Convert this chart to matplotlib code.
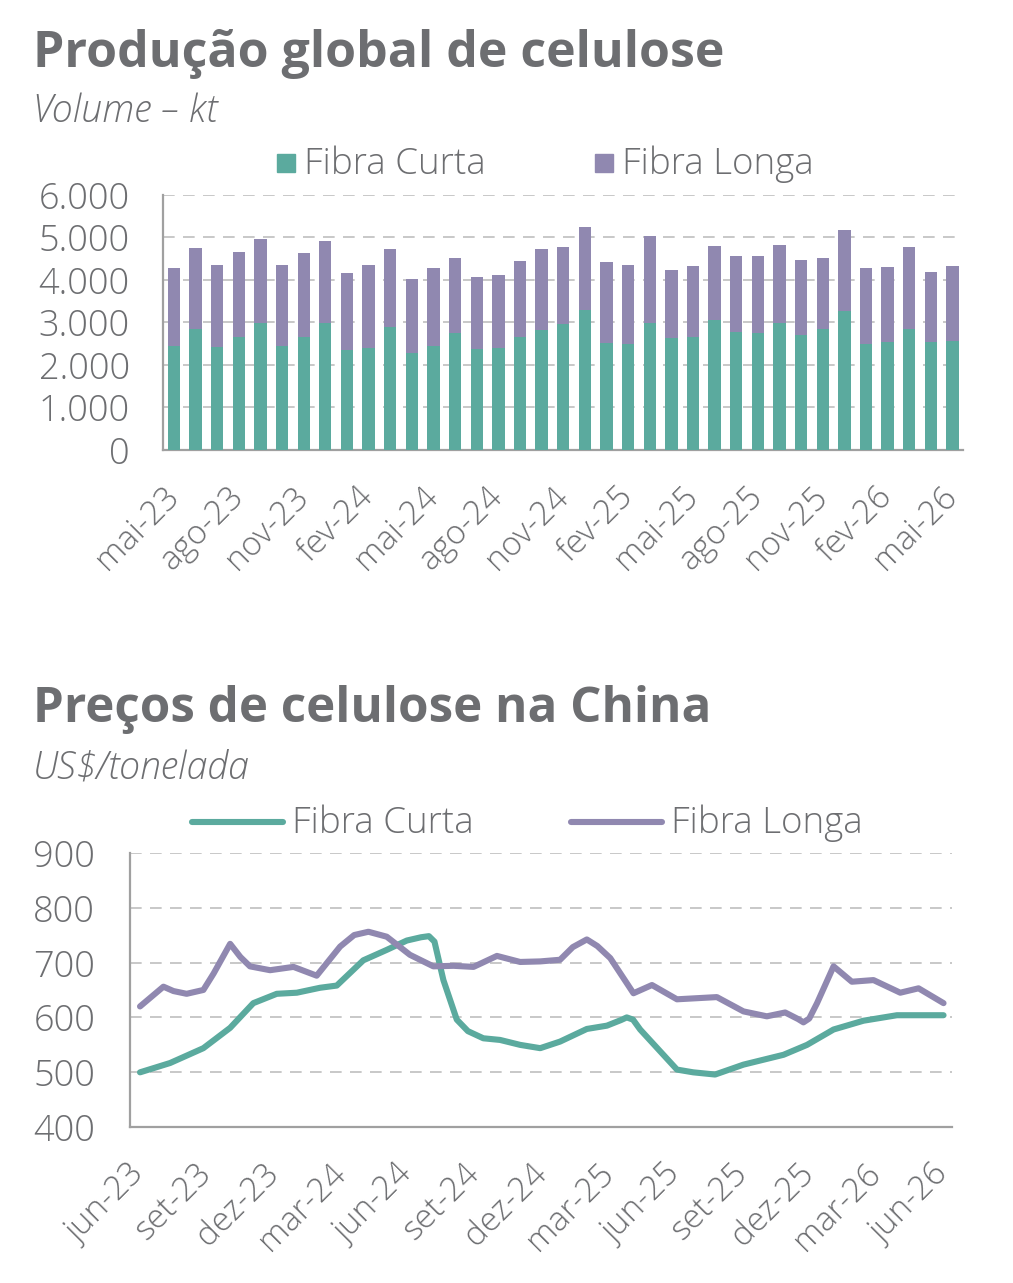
import matplotlib
matplotlib.use("Agg")
import matplotlib.pyplot as plt
from matplotlib.patches import Rectangle
from matplotlib.lines import Line2D
from matplotlib.ticker import FuncFormatter

plt.rcParams['font.family'] = ['Open Sans', 'DejaVu Sans']

# ---- dados: producao global (kt) ----
meses_prod = ["mai-23", "jun-23", "jul-23", "ago-23", "set-23", "out-23", "nov-23", "dez-23",
              "jan-24", "fev-24", "mar-24", "abr-24", "mai-24", "jun-24", "jul-24", "ago-24",
              "set-24", "out-24", "nov-24", "dez-24", "jan-25", "fev-25", "mar-25", "abr-25",
              "mai-25", "jun-25", "jul-25", "ago-25", "set-25", "out-25", "nov-25", "dez-25",
              "jan-26", "fev-26", "mar-26", "abr-26", "mai-26"]
total_prod = [4282, 4753, 4353, 4659, 4965, 4353, 4635, 4918, 4165, 4353, 4729, 4024,
              4282, 4518, 4071, 4118, 4447, 4729, 4776, 5247, 4424, 4353, 5035, 4235,
              4329, 4800, 4565, 4565, 4824, 4471, 4518, 5176, 4282, 4306, 4776, 4188, 4329]
curta_prod = [2447, 2839, 2416, 2651, 2980, 2447, 2651, 2980, 2353, 2400, 2886, 2274,
              2447, 2745, 2369, 2400, 2651, 2824, 2965, 3294, 2510, 2494, 2980, 2635,
              2651, 3059, 2776, 2745, 2980, 2698, 2839, 3263, 2494, 2541, 2839, 2541, 2557]
longa_prod = [t - c for t, c in zip(total_prod, curta_prod)]

# ---- dados: precos China (US$/t), posicao em meses desde jun-23 ----
meses_preco = ["jun-23", "set-23", "dez-23", "mar-24", "jun-24", "set-24", "dez-24",
               "mar-25", "jun-25", "set-25", "dez-25", "mar-26", "jun-26"]
x_curta = [0, 1.35, 2.84, 4.04, 5.08, 6.13, 7.03, 8.07, 8.82, 10.01, 11.06, 11.96, 12.6,
           12.95, 13.2, 13.6, 14.2, 14.7, 15.39, 16.14, 17.04, 17.94, 18.83, 20.03, 20.93,
           21.55, 21.82, 22.1, 22.42, 24.07, 24.8, 25.78, 27.05, 28.85, 29.9, 31.09, 32.43,
           33.93, 36.02]
y_curta = [500, 517, 544, 581, 626, 643, 645, 654, 658, 704, 723, 740, 746,
           748, 738, 668, 596, 575, 562, 559, 550, 544, 556, 579, 585,
           595, 600, 596, 578, 505, 500, 496, 514, 532, 550, 578, 594,
           604, 604]
x_longa = [0, 1.05, 1.5, 2.09, 2.84, 3.3, 4.04, 4.5, 4.93, 5.83, 6.88, 7.92, 8.97, 9.6,
           10.24, 11.06, 12.1, 13.15, 14.05, 14.95, 16.0, 17.04, 17.94, 18.83, 19.4,
           20.03, 20.5, 21.08, 22.12, 22.95, 24.07, 25.86, 27.05, 28.1, 28.92, 29.5,
           29.74, 30.0, 30.35, 31.09, 31.91, 32.88, 34.08, 34.9, 36.02]
y_longa = [620, 656, 648, 643, 650, 680, 734, 710, 693, 686, 692, 676, 729, 750,
           756, 747, 714, 693, 694, 692, 712, 701, 702, 705, 728,
           742, 730, 708, 644, 659, 633, 637, 611, 602, 609, 597,
           591, 598, 626, 693, 665, 668, 645, 653, 626]

verde = "#5baa9e"
roxo = "#9088b0"
cinza_txt = "#6d6e71"
cinza_grid = "#bfbfbf"
cinza_eixo = "#a0a0a0"
peso = "light"

fig = plt.figure(figsize=(10.13, 12.83), dpi=100)


def estilo_eixo(ax):
    for s in ["top", "right"]:
        ax.spines[s].set_visible(False)
    for s in ["left", "bottom"]:
        ax.spines[s].set_color(cinza_eixo)
        ax.spines[s].set_linewidth(1.6)
    ax.yaxis.grid(True, color=cinza_grid, linewidth=1.2, linestyle=(0, (7, 5)))
    ax.set_axisbelow(True)
    ax.tick_params(length=0, labelcolor=cinza_txt, labelsize=24)
    for lab in ax.get_yticklabels() + ax.get_xticklabels():
        lab.set_fontweight(peso)


# ==========================================
# grafico 1: barras empilhadas
# ==========================================
ax1 = fig.add_axes([0.161, 0.6493, 0.79, 0.1988])
xs = list(range(len(meses_prod)))
ax1.bar(xs, curta_prod, width=0.57, color=verde, zorder=3)
ax1.bar(xs, longa_prod, width=0.57, bottom=curta_prod, color=roxo, zorder=3)
ax1.set_xlim(-0.5, len(meses_prod) - 0.5)
ax1.set_ylim(0, 6000)
ax1.set_yticks(range(0, 6001, 1000))
ax1.yaxis.set_major_formatter(FuncFormatter(lambda v, p: f"{int(v):,}".replace(",", ".")))
ax1.set_xticks(xs[::3])
ax1.set_xticklabels(meses_prod[::3], rotation=45, ha="right", va="center",
                    rotation_mode="anchor")
estilo_eixo(ax1)
ax1.tick_params(axis="y", pad=24, labelsize=26)
ax1.tick_params(axis="x", pad=30)

fig.text(0.0326, 0.948, "Produção global de celulose", fontsize=36, fontweight="bold",
         color=cinza_txt, va="baseline")
fig.text(0.0326, 0.905, "Volume – kt", fontsize=27, style="italic", fontweight=peso,
         color=cinza_txt, va="baseline")

# legenda 1
for x0, cor, nome in [(277, verde, "Fibra Curta"), (595, roxo, "Fibra Longa")]:
    fig.patches.append(Rectangle((x0 / 1013, 1 - 172 / 1283), 18 / 1013, 18 / 1283,
                                 transform=fig.transFigure, color=cor))
    fig.text((x0 + 27) / 1013, 1 - 174 / 1283, nome, fontsize=26.5, fontweight=peso,
             color=cinza_txt, va="baseline")

# ==========================================
# grafico 2: linhas de preco
# ==========================================
ax2 = fig.add_axes([0.1283, 0.1214, 0.8115, 0.214])
ax2.plot(x_curta, y_curta, color=verde, linewidth=4.4, solid_capstyle="round",
         solid_joinstyle="round", zorder=3)
ax2.plot(x_longa, y_longa, color=roxo, linewidth=4.4, solid_capstyle="round",
         solid_joinstyle="round", zorder=3)
ax2.set_xlim(-0.45, 36.4)
ax2.set_ylim(400, 900)
ax2.set_yticks(range(400, 901, 100))
ax2.set_xticks(range(0, 37, 3))
ax2.set_xticklabels(meses_preco, rotation=45, ha="right", va="center",
                    rotation_mode="anchor")
estilo_eixo(ax2)
ax2.tick_params(axis="y", pad=25, labelsize=26)
ax2.tick_params(axis="x", pad=30)

fig.text(0.0326, 0.437, "Preços de celulose na China", fontsize=35.5, fontweight="bold",
         color=cinza_txt, va="baseline")
fig.text(0.0326, 0.3936, "US$/tonelada", fontsize=27, style="italic", fontweight=peso,
         color=cinza_txt, va="baseline")

# legenda 2
for x0, cor, nome in [(192, verde, "Fibra Curta"), (571, roxo, "Fibra Longa")]:
    fig.lines.append(Line2D([x0 / 1013, (x0 + 91) / 1013], [1 - 822 / 1283] * 2,
                            transform=fig.transFigure, color=cor, linewidth=4.4,
                            solid_capstyle="round"))
    fig.text((x0 + 100) / 1013, 1 - 833 / 1283, nome, fontsize=26.5, fontweight=peso,
             color=cinza_txt, va="baseline")

fig.savefig("out.png", dpi=100)
